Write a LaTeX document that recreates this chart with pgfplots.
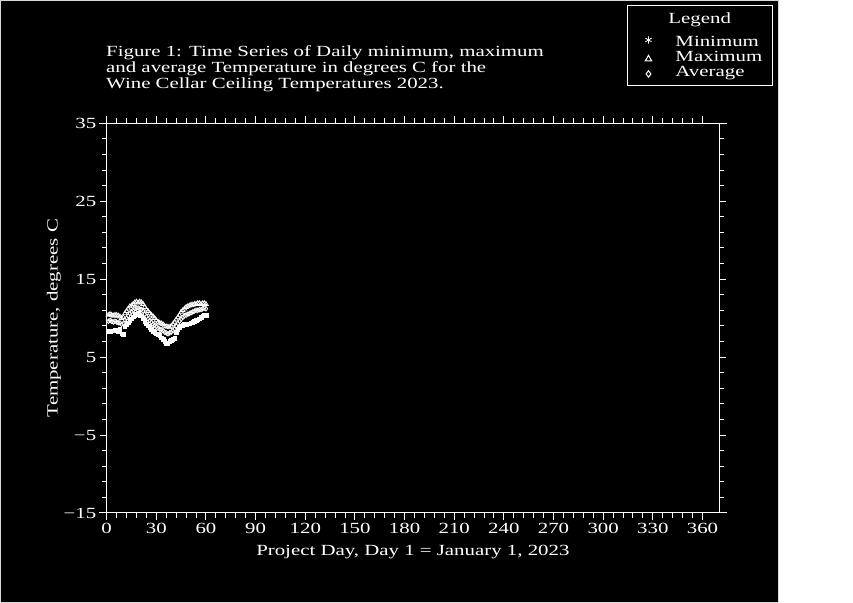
\documentclass[border=0pt]{standalone}
\usepackage{fontspec}
\setmainfont[FakeStretch=1.345]{Liberation Serif}
\usepackage{pgfplots}
\pgfplotsset{compat=1.18}
\usepackage{pgfplotstable}
\newcommand\fs{\fontsize{15.5bp}{17bp}\selectfont}
\pgfplotsset{
  mylegimg/.style={legend image code/.code={\path[draw=none,fill=none] (0bp,0bp) -- (48bp,0bp); \draw[##1, mark options={scale=1.4}] plot coordinates {(21bp,-2bp)};}},
  mylegimgmin/.style={legend image code/.code={\path[draw=none,fill=none] (0bp,0bp) -- (48bp,0bp); \draw[##1, mark=asterisk, mark options={scale=2, line width=0.8bp}] plot coordinates {(21bp,-2bp)};}},
}
\pgfplotstableread{
day tmin tmax tavg
1 8.3 10.4 9.6
2 8.3 10.5 9.7
3 8.4 10.4 9.6
4 8.4 10.3 9.5
5 8.5 10.4 9.6
6 8.5 10.4 9.5
7 8.3 10.3 9.4
8 8.6 10.2 9.4
9 8.0 10.0 9.2
10 7.9 10.1 9.3
11 8.9 10.6 9.8
12 9.2 10.9 10.0
13 9.4 11.2 10.3
14 9.7 11.5 10.6
15 9.9 11.6 10.8
16 10.2 11.8 11.0
17 10.4 12.0 11.2
18 10.5 12.1 11.3
19 10.6 12.0 11.3
20 10.4 12.1 11.2
21 10.3 12.0 11.1
22 9.9 11.8 10.9
23 9.6 11.4 10.5
24 9.3 11.1 10.2
25 9.0 10.9 9.9
26 8.8 10.6 9.7
27 8.6 10.4 9.5
28 8.3 10.2 9.2
29 8.2 10.0 9.1
30 8.0 9.7 8.9
31 7.9 9.5 8.7
32 7.8 9.4 8.6
33 7.5 9.3 8.5
34 7.3 9.2 8.4
35 7.0 9.0 8.2
36 6.8 8.9 8.1
37 6.7 8.9 8.0
38 7.0 8.8 8.1
39 7.2 9.0 8.2
40 7.3 9.2 8.4
41 7.4 9.5 8.6
42 8.2 9.8 9.0
43 8.5 10.1 9.3
44 8.8 10.4 9.6
45 9.0 10.8 9.9
46 9.1 11.0 10.1
47 9.2 11.2 10.3
48 9.2 11.4 10.4
49 9.3 11.5 10.5
50 9.3 11.6 10.6
51 9.4 11.7 10.7
52 9.5 11.7 10.8
53 9.6 11.8 10.9
54 9.7 11.8 11.0
55 9.8 11.9 11.0
56 9.9 11.9 11.1
57 10.1 11.8 11.1
58 10.3 11.9 11.2
59 10.4 11.9 11.3
60 10.4 11.8 11.2
}\temps
\begin{document}
\begin{tikzpicture}[x=1bp,y=1bp]
\useasboundingbox (0,0) rectangle (853,603);
\fill[black] (0,0) rectangle (778,603);
\draw[white!85!black, line width=1bp] (0.5,0.5) rectangle (778,602.5);
\begin{axis}[
  at={(106.7bp,90bp)}, anchor=south west,
  scale only axis, width=612.3bp, height=389.7bp,
  xmin=0, xmax=370, ymin=-15, ymax=35,
  axis line style={white, line width=1bp},
  every tick/.style={white, line width=1bp},
  tick align=outside,
  major tick length=7bp, minor tick length=5bp,
  xtick={0,30,...,360}, minor x tick num=4,
  ytick={-15,-5,5,15,25,35}, minor y tick num=4,
  yticklabels={−15,−5,5,15,25,35},
  /pgf/number format/assume math mode=true,
  tick label style={font=\fs, text=white},
  xlabel={Project Day, Day 1 = January 1, 2023},
  ylabel={Temperature, degrees C},
  label style={font=\fs, text=white},
  xlabel style={at={(axis description cs:0.5,0)}, anchor=base, yshift=-43bp},
  ylabel style={at={(axis description cs:-0.086,0.5)}, anchor=center},
  legend style={at={(axis description cs:0.8497,1.3036)}, anchor=north west,
    draw=white, fill=black, text=white, font=\fs, line width=1bp,
    inner xsep=0pt, inner ysep=6bp, row sep=0pt, column sep=0pt,
    nodes={inner sep=0pt, text depth=3bp}, cells={anchor=west}},
]
\addlegendimage{empty legend}
\addlegendentry{\hspace*{-7bp}Legend\rule{0pt}{12bp}}
\addplot[only marks, mark=square*, mark size=1.8bp, white, mark options={line width=0.5bp}, mylegimgmin]
  table[x=day, y=tmin] {\temps};
\addlegendentry{Minimum\rule{0pt}{20bp}}
\addplot[only marks, mark=triangle, mark size=2.6bp, white, mark options={line width=0.8bp}, mylegimg]
  table[x=day, y=tmax] {\temps};
\addlegendentry{Maximum\hspace*{10bp}\rule{0pt}{12bp}}
\addplot[only marks, mark=diamond, mark size=2.3bp, white, mark options={line width=0.8bp}, mylegimg]
  table[x=day, y=tavg] {\temps};
\addlegendentry{Average\rule{0pt}{12bp}}
\end{axis}
\draw[white, line width=1bp] (99,90) -- (106.7,90) (719,90) -- (727,90);
\draw[white, line width=1bp] (99,479.7) -- (106.7,479.7) (719,479.7) -- (727,479.7);
\draw[white, line width=1bp] (106.7,479.7) -- (106.7,487) (106.7,90) -- (106.7,83);
\node[anchor=base west, text=white, font=\fs, inner sep=0pt] at (106,546) {Figure 1: Time Series of Daily minimum, maximum};
\node[anchor=base west, text=white, font=\fs, inner sep=0pt] at (106,530) {and average Temperature in degrees C for the};
\node[anchor=base west, text=white, font=\fs, inner sep=0pt] at (106,514) {Wine Cellar Ceiling Temperatures 2023.};
\end{tikzpicture}
\end{document}
